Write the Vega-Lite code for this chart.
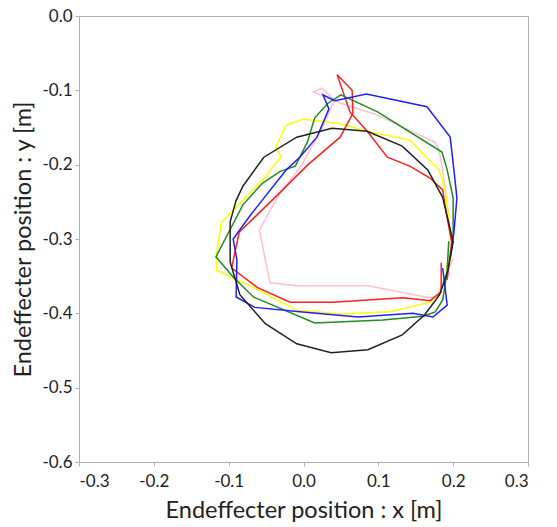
{
  "$schema": "https://vega.github.io/schema/vega-lite/v6.json",
  "width": 449,
  "height": 446,
  "autosize": {"type": "none"},
  "padding": {"left": 79, "top": 16, "right": 29, "bottom": 65},
  "background": "white",
  "config": {
    "view": {"stroke": "#b0b0b0", "strokeWidth": 1},
    "axis": {
      "grid": false,
      "domainColor": "#b0b0b0",
      "tickColor": "#b0b0b0",
      "tickSize": 4,
      "labelFont": "Lato",
      "labelFontSize": 17,
      "labelColor": "#222222",
      "titleFont": "Lato",
      "titleFontSize": 23.5,
      "titleFontWeight": "normal",
      "titleColor": "#222222"
    }
  },
  "data": {
    "values": [
      {"s": "pink", "i": 1, "x": 0.200, "y": -0.326},
      {"s": "pink", "i": 2, "x": 0.178, "y": -0.378},
      {"s": "pink", "i": 3, "x": 0.169, "y": -0.379},
      {"s": "pink", "i": 4, "x": 0.086, "y": -0.363},
      {"s": "pink", "i": 5, "x": -0.009, "y": -0.363},
      {"s": "pink", "i": 6, "x": -0.045, "y": -0.359},
      {"s": "pink", "i": 7, "x": -0.059, "y": -0.288},
      {"s": "pink", "i": 8, "x": -0.035, "y": -0.244},
      {"s": "pink", "i": 9, "x": -0.002, "y": -0.200},
      {"s": "pink", "i": 10, "x": 0.026, "y": -0.149},
      {"s": "pink", "i": 11, "x": 0.041, "y": -0.113},
      {"s": "pink", "i": 12, "x": 0.025, "y": -0.097},
      {"s": "pink", "i": 13, "x": 0.013, "y": -0.102},
      {"s": "pink", "i": 14, "x": 0.049, "y": -0.117},
      {"s": "pink", "i": 15, "x": 0.098, "y": -0.133},
      {"s": "pink", "i": 16, "x": 0.176, "y": -0.170},
      {"s": "pink", "i": 17, "x": 0.181, "y": -0.180},
      {"s": "pink", "i": 18, "x": 0.186, "y": -0.207},
      {"s": "pink", "i": 19, "x": 0.193, "y": -0.261},
      {"s": "pink", "i": 20, "x": 0.198, "y": -0.308},

      {"s": "yellow", "i": 1, "x": -0.042, "y": -0.204},
      {"s": "yellow", "i": 2, "x": -0.030, "y": -0.190},
      {"s": "yellow", "i": 3, "x": -0.037, "y": -0.175},
      {"s": "yellow", "i": 4, "x": -0.023, "y": -0.147},
      {"s": "yellow", "i": 5, "x": -0.001, "y": -0.139},
      {"s": "yellow", "i": 6, "x": 0.049, "y": -0.145},
      {"s": "yellow", "i": 7, "x": 0.085, "y": -0.155},
      {"s": "yellow", "i": 8, "x": 0.142, "y": -0.167},
      {"s": "yellow", "i": 9, "x": 0.181, "y": -0.207},
      {"s": "yellow", "i": 10, "x": 0.189, "y": -0.231},
      {"s": "yellow", "i": 11, "x": 0.196, "y": -0.291},
      {"s": "yellow", "i": 12, "x": 0.193, "y": -0.328},
      {"s": "yellow", "i": 13, "x": 0.189, "y": -0.358},
      {"s": "yellow", "i": 14, "x": 0.182, "y": -0.373},
      {"s": "yellow", "i": 15, "x": 0.169, "y": -0.385},
      {"s": "yellow", "i": 16, "x": 0.116, "y": -0.398},
      {"s": "yellow", "i": 17, "x": 0.049, "y": -0.401},
      {"s": "yellow", "i": 18, "x": -0.009, "y": -0.396},
      {"s": "yellow", "i": 19, "x": -0.065, "y": -0.366},
      {"s": "yellow", "i": 20, "x": -0.116, "y": -0.342},
      {"s": "yellow", "i": 21, "x": -0.117, "y": -0.326},
      {"s": "yellow", "i": 22, "x": -0.110, "y": -0.278},
      {"s": "yellow", "i": 23, "x": -0.071, "y": -0.237},
      {"s": "yellow", "i": 24, "x": -0.051, "y": -0.217},
      {"s": "yellow", "i": 25, "x": -0.042, "y": -0.204},

      {"s": "red", "i": 1, "x": 0.184, "y": -0.332},
      {"s": "red", "i": 2, "x": 0.184, "y": -0.371},
      {"s": "red", "i": 3, "x": 0.169, "y": -0.383},
      {"s": "red", "i": 4, "x": 0.133, "y": -0.379},
      {"s": "red", "i": 5, "x": 0.039, "y": -0.385},
      {"s": "red", "i": 6, "x": -0.018, "y": -0.385},
      {"s": "red", "i": 7, "x": -0.062, "y": -0.365},
      {"s": "red", "i": 8, "x": -0.096, "y": -0.339},
      {"s": "red", "i": 9, "x": -0.086, "y": -0.291},
      {"s": "red", "i": 10, "x": -0.035, "y": -0.241},
      {"s": "red", "i": 11, "x": 0.006, "y": -0.200},
      {"s": "red", "i": 12, "x": 0.049, "y": -0.163},
      {"s": "red", "i": 13, "x": 0.066, "y": -0.131},
      {"s": "red", "i": 14, "x": 0.065, "y": -0.100},
      {"s": "red", "i": 15, "x": 0.045, "y": -0.079},
      {"s": "red", "i": 16, "x": 0.062, "y": -0.129},
      {"s": "red", "i": 17, "x": 0.086, "y": -0.156},
      {"s": "red", "i": 18, "x": 0.112, "y": -0.190},
      {"s": "red", "i": 19, "x": 0.142, "y": -0.202},
      {"s": "red", "i": 20, "x": 0.169, "y": -0.218},
      {"s": "red", "i": 21, "x": 0.186, "y": -0.234},
      {"s": "red", "i": 22, "x": 0.189, "y": -0.254},
      {"s": "red", "i": 23, "x": 0.193, "y": -0.277},
      {"s": "red", "i": 24, "x": 0.198, "y": -0.304},
      {"s": "red", "i": 25, "x": 0.192, "y": -0.355},

      {"s": "green", "i": 1, "x": 0.194, "y": -0.303},
      {"s": "green", "i": 2, "x": 0.192, "y": -0.344},
      {"s": "green", "i": 3, "x": 0.186, "y": -0.382},
      {"s": "green", "i": 4, "x": 0.176, "y": -0.398},
      {"s": "green", "i": 5, "x": 0.160, "y": -0.404},
      {"s": "green", "i": 6, "x": 0.106, "y": -0.409},
      {"s": "green", "i": 7, "x": 0.015, "y": -0.413},
      {"s": "green", "i": 8, "x": -0.067, "y": -0.378},
      {"s": "green", "i": 9, "x": -0.094, "y": -0.351},
      {"s": "green", "i": 10, "x": -0.117, "y": -0.324},
      {"s": "green", "i": 11, "x": -0.081, "y": -0.254},
      {"s": "green", "i": 12, "x": -0.055, "y": -0.225},
      {"s": "green", "i": 13, "x": -0.031, "y": -0.209},
      {"s": "green", "i": 14, "x": -0.011, "y": -0.202},
      {"s": "green", "i": 15, "x": 0.005, "y": -0.170},
      {"s": "green", "i": 16, "x": 0.015, "y": -0.137},
      {"s": "green", "i": 17, "x": 0.033, "y": -0.117},
      {"s": "green", "i": 18, "x": 0.050, "y": -0.106},
      {"s": "green", "i": 19, "x": 0.099, "y": -0.129},
      {"s": "green", "i": 20, "x": 0.185, "y": -0.183},
      {"s": "green", "i": 21, "x": 0.192, "y": -0.207},
      {"s": "green", "i": 22, "x": 0.200, "y": -0.245},
      {"s": "green", "i": 23, "x": 0.200, "y": -0.299},

      {"s": "blue", "i": 1, "x": 0.186, "y": -0.339},
      {"s": "blue", "i": 2, "x": 0.192, "y": -0.389},
      {"s": "blue", "i": 3, "x": 0.173, "y": -0.405},
      {"s": "blue", "i": 4, "x": 0.146, "y": -0.400},
      {"s": "blue", "i": 5, "x": 0.073, "y": -0.405},
      {"s": "blue", "i": 6, "x": -0.005, "y": -0.398},
      {"s": "blue", "i": 7, "x": -0.065, "y": -0.392},
      {"s": "blue", "i": 8, "x": -0.090, "y": -0.378},
      {"s": "blue", "i": 9, "x": -0.089, "y": -0.328},
      {"s": "blue", "i": 10, "x": -0.094, "y": -0.300},
      {"s": "blue", "i": 11, "x": -0.071, "y": -0.268},
      {"s": "blue", "i": 12, "x": -0.023, "y": -0.207},
      {"s": "blue", "i": 13, "x": -0.005, "y": -0.190},
      {"s": "blue", "i": 14, "x": 0.018, "y": -0.163},
      {"s": "blue", "i": 15, "x": 0.034, "y": -0.125},
      {"s": "blue", "i": 16, "x": 0.026, "y": -0.106},
      {"s": "blue", "i": 17, "x": 0.042, "y": -0.114},
      {"s": "blue", "i": 18, "x": 0.084, "y": -0.105},
      {"s": "blue", "i": 19, "x": 0.165, "y": -0.122},
      {"s": "blue", "i": 20, "x": 0.196, "y": -0.163},
      {"s": "blue", "i": 21, "x": 0.201, "y": -0.207},
      {"s": "blue", "i": 22, "x": 0.205, "y": -0.245},
      {"s": "blue", "i": 23, "x": 0.201, "y": -0.291},
      {"s": "blue", "i": 24, "x": 0.196, "y": -0.326},

      {"s": "black", "i": 1, "x": -0.098, "y": -0.331},
      {"s": "black", "i": 2, "x": -0.098, "y": -0.277},
      {"s": "black", "i": 3, "x": -0.090, "y": -0.248},
      {"s": "black", "i": 4, "x": -0.081, "y": -0.229},
      {"s": "black", "i": 5, "x": -0.053, "y": -0.190},
      {"s": "black", "i": 6, "x": -0.009, "y": -0.163},
      {"s": "black", "i": 7, "x": 0.038, "y": -0.151},
      {"s": "black", "i": 8, "x": 0.085, "y": -0.155},
      {"s": "black", "i": 9, "x": 0.132, "y": -0.175},
      {"s": "black", "i": 10, "x": 0.166, "y": -0.207},
      {"s": "black", "i": 11, "x": 0.186, "y": -0.244},
      {"s": "black", "i": 12, "x": 0.200, "y": -0.304},
      {"s": "black", "i": 13, "x": 0.193, "y": -0.342},
      {"s": "black", "i": 14, "x": 0.182, "y": -0.375},
      {"s": "black", "i": 15, "x": 0.162, "y": -0.402},
      {"s": "black", "i": 16, "x": 0.132, "y": -0.429},
      {"s": "black", "i": 17, "x": 0.086, "y": -0.449},
      {"s": "black", "i": 18, "x": 0.037, "y": -0.453},
      {"s": "black", "i": 19, "x": -0.009, "y": -0.441},
      {"s": "black", "i": 20, "x": -0.051, "y": -0.414},
      {"s": "black", "i": 21, "x": -0.085, "y": -0.375},
      {"s": "black", "i": 22, "x": -0.098, "y": -0.331}
    ]
  },
  "mark": {"type": "line", "strokeWidth": 1.5, "clip": true},
  "encoding": {
    "x": {
      "field": "x",
      "type": "quantitative",
      "scale": {"domain": [-0.3, 0.3], "nice": false, "zero": false},
      "axis": {
        "values": [-0.3, -0.2, -0.1, 0, 0.1, 0.2, 0.3],
        "labelExpr": "replace(format(datum.value, '.1f'), '−', '-')",
        "title": "Endeffecter position : x [m]",
        "labelPadding": 7,
        "titlePadding": 9
      }
    },
    "y": {
      "field": "y",
      "type": "quantitative",
      "scale": {"domain": [-0.6, 0], "nice": false, "zero": false},
      "axis": {
        "values": [-0.6, -0.5, -0.4, -0.3, -0.2, -0.1, 0],
        "labelExpr": "replace(format(datum.value, '.1f'), '−', '-')",
        "title": "Endeffecter position : y [m]",
        "labelPadding": 3,
        "titlePadding": 6
      }
    },
    "color": {
      "field": "s",
      "type": "nominal",
      "sort": ["pink", "yellow", "red", "green", "blue", "black"],
      "scale": {
        "domain": ["pink", "yellow", "red", "green", "blue", "black"],
        "range": ["#ffc0cb", "#ffff00", "#ff2020", "#228b22", "#2020ff", "#222222"]
      },
      "legend": null
    },
    "order": {"field": "i", "type": "quantitative"}
  }
}
